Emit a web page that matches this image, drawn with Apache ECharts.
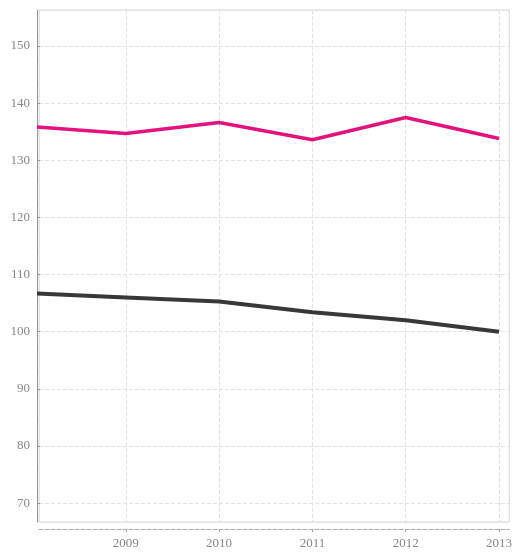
<!DOCTYPE html>
<html>
<head>
<meta charset="utf-8">
<script src="https://cdn.jsdelivr.net/npm/echarts@6/dist/echarts.min.js"></script>
<style>
  html, body { margin: 0; padding: 0; background: #fff; }
  #main { width: 515px; height: 556px; }
</style>
</head>
<body>
<div id="main"></div>
<script>
var years = [2008, 2009, 2010, 2011, 2012, 2013];
var pinkValues = [135.9, 134.7, 136.6, 133.6, 137.5, 133.8];
var blackValues = [106.7, 106.0, 105.3, 103.4, 102.0, 100.0];

var chartDom = document.getElementById('main');
var myChart = echarts.init(chartDom, null, { renderer: 'canvas' });

function pairs(vals) {
    return years.map(function (y, i) { return [y, vals[i]]; });
}

var labelFont = {
    color: '#888',
    fontFamily: 'Liberation Serif',
    fontSize: 13
};

var option = {
    animation: false,
    grid: {
        left: 39,
        right: 5,
        top: 10,
        bottom: 34,
        show: true,
        borderColor: '#d4d4d4',
        borderWidth: 1
    },
    xAxis: {
        type: 'value',
        min: 2008.07,
        max: 2013.11,
        splitNumber: 5,
        offset: 7,
        axisLine: { show: true, lineStyle: { color: '#aaa', width: 1, type: 'dashed' } },
        axisTick: { show: true, length: 3, lineStyle: { color: '#aaa' } },
        axisLabel: Object.assign({
            margin: 8,
            showMinLabel: false,
            showMaxLabel: false,
            formatter: function (v) { return String(Math.round(v)); }
        }, labelFont),
        splitLine: { show: true, lineStyle: { color: '#e2e2e2', type: 'dashed' } }
    },
    yAxis: {
        type: 'value',
        min: 66.7,
        max: 156.3,
        splitNumber: 9,
        offset: 2,
        axisLine: { show: true, lineStyle: { color: '#999', width: 1 } },
        axisTick: { show: true, length: 3, inside: true, lineStyle: { color: '#999' } },
        axisLabel: Object.assign({
            margin: 7,
            showMinLabel: false,
            showMaxLabel: false
        }, labelFont),
        splitLine: { show: true, lineStyle: { color: '#e2e2e2', type: 'dashed' } }
    },
    series: [
        {
            name: 'pink',
            type: 'line',
            data: pairs(pinkValues),
            showSymbol: false,
            clip: true,
            lineStyle: { color: '#e3127d', width: 3.5 },
            itemStyle: { color: '#e3127d' }
        },
        {
            name: 'black',
            type: 'line',
            data: pairs(blackValues),
            showSymbol: false,
            clip: true,
            lineStyle: { color: '#383838', width: 4 },
            itemStyle: { color: '#383838' }
        }
    ]
};

myChart.setOption(option);
</script>
</body>
</html>
